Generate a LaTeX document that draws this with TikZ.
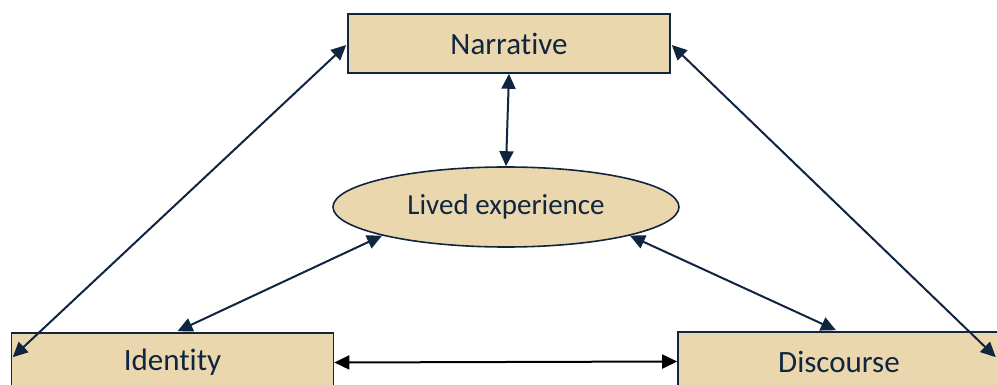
\documentclass[tikz,border=0pt]{standalone}
\usepackage{fontspec}
\setmainfont{Carlito}[Ligatures={NoCommon}, RawFeature={-liga;-clig;-dlig;-calt}]
\usetikzlibrary{shapes.geometric,arrows.meta,calc}
\definecolor{navy}{HTML}{10253F}
\definecolor{sand}{HTML}{EBD7AD}
\tikzset{
  concept/.style={draw=navy, line width=1.6pt, fill=sand, text=navy,
    minimum width=322pt, minimum height=59pt, inner sep=0pt,
    font=\fontsize{31}{36}\selectfont},
  hub/.style={ellipse, draw=navy, line width=1.6pt, fill=sand, text=navy,
    minimum width=346pt, minimum height=80pt, inner sep=0pt,
    font=\fontsize{29}{34}\selectfont},
  link/.style={line width=2pt, draw=navy,
    {Triangle[length=15pt,width=14pt]}-{Triangle[length=15pt,width=14pt]}},
}
\begin{document}
\begin{tikzpicture}[x=1pt,y=-1pt]
  \useasboundingbox (0,0) rectangle (997,385);
  \clip (0,0) rectangle (997,385);
  % the four concepts
  \node[concept] (nar) at (509,43.5) {Narrat\kern0pt ive};
  \node[hub]     (liv) at (506,207) {Lived experience};
  \node[concept] (idn) at (172.5,362.5) {Ident\kern0pt ity};
  \node[concept] (dis) at (839,361.5) {Discourse};
  % end points on the box borders
  \coordinate (narL) at ($(nar.west)+(-1,1.5)$);
  \coordinate (narR) at ($(nar.east)+(1,1.5)$);
  \coordinate (idnL) at ($(idn.north west)+(2,25)$);
  \coordinate (idnT) at ($(idn.north)+(5,-1)$);
  \coordinate (disR) at ($(dis.north east)+(-5,26)$);
  \coordinate (disT) at ($(dis.north)+(-3,-1)$);
  % relations
  \draw[link] (nar.south) -- (liv.north);
  \draw[link] (narL) -- (idnL);
  \draw[link] (narR) -- (disR);
  \draw[link] (liv.193) -- (idnT);
  \draw[link] (liv.347) -- (disT);
  \draw[link, draw=black] (idn.east) -- (dis.west);
\end{tikzpicture}
\end{document}
